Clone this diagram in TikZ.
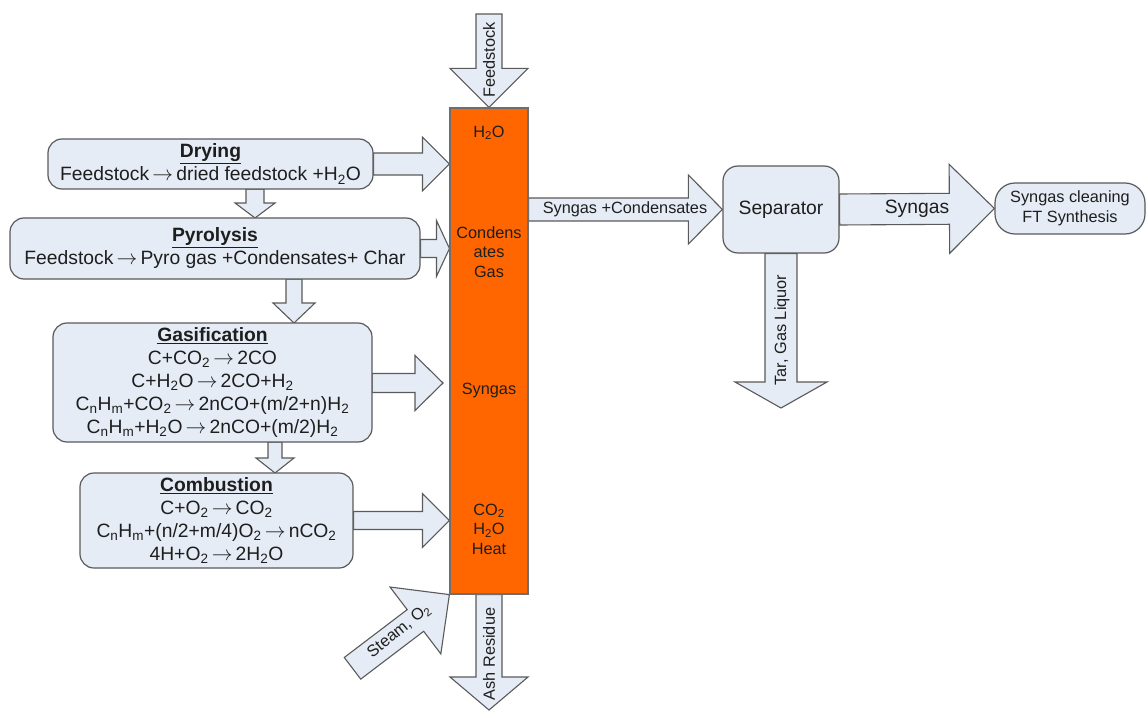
\documentclass[tikz,border=0pt]{standalone}
\usepackage{fontspec}
\setmainfont{Liberation Sans}
\usetikzlibrary{calc}
\definecolor{boxfill}{HTML}{E6ECF6}
\definecolor{boxline}{HTML}{5A5A5A}
\definecolor{colfill}{HTML}{FF6600}
\definecolor{colline}{HTML}{6E6E6E}
\definecolor{txt}{HTML}{1E1E1E}
\pgfdeclarelayer{bg}\pgfdeclarelayer{arr}\pgfsetlayers{bg,arr,main}
\newcommand\bigf{\fontsize{19.3}{23}\selectfont}
\newcommand\smf{\fontsize{16.3}{19.5}\selectfont}
\newcommand\sbs[1]{\textsubscript{#1}}
\newcommand\ra{\,$\rightarrow$\,}
% block arrow: start, end, shaft half width, head half width, head length
\newcommand\barrow[5]{%
  \path let \p1=(#1), \p2=(#2), \n1={atan2(\y2-\y1,\x2-\x1)}, \n2={veclen(\x2-\x1,\y2-\y1)} in
    \pgfextra{\xdef\bang{\n1}\xdef\blen{\n2}\xdef\bx{\x1}\xdef\by{\y1}};
  \draw[barr, shift={(\bx,\by)}, rotate=\bang]
    (0,#3) -- (\blen-#5,#3) -- (\blen-#5,#4) -- (\blen,0) -- (\blen-#5,-#4) -- (\blen-#5,-#3) -- (0,-#3) -- cycle;
}
\begin{document}
\begin{tikzpicture}[x=1pt,y=-1pt,
  box/.style={draw=boxline, fill=boxfill, line width=1.2pt, rounded corners=14pt, align=center, inner sep=0pt, text=txt, font=\bigf},
  barr/.style={draw=boxline, fill=boxfill, line width=1.1pt, line join=miter},
  col/.style={draw=colline, fill=colfill, line width=1.1pt, inner sep=0pt},
  lbl/.style={text=txt, font=\smf, inner sep=0pt, align=center},
  blbl/.style={text=txt, font=\bigf, inner sep=0pt, align=center}]
\begin{pgfonlayer}{bg}
  \fill[white] (0,0) rectangle (1147,711);
\end{pgfonlayer}
\useasboundingbox (0,0) rectangle (1147,711);

% process boxes
\node[box, minimum width=325, minimum height=50] (drying) at (210.5,164)
  {\underline{\textbf{Drying}}\\Feedstock\ra dried feedstock +H\sbs{2}O};
\node[box, minimum width=410, minimum height=61] (pyro) at (215,248.5)
  {\underline{\textbf{Pyrolysis}}\\Feedstock\ra Pyro gas +Condensates+ Char};
\node[box, minimum width=319, minimum height=119] (gasif) at (212.5,382.5)
  {\underline{\textbf{Gasification}}\\C+CO\sbs{2}\ra 2CO\\C+H\sbs{2}O\ra 2CO+H\sbs{2}\\
   C\sbs{n}H\sbs{m}+CO\sbs{2}\ra 2nCO+(m/2+n)H\sbs{2}\\C\sbs{n}H\sbs{m}+H\sbs{2}O\ra 2nCO+(m/2)H\sbs{2}};
\node[box, minimum width=273, minimum height=95] (comb) at (216.5,520.5)
  {\underline{\textbf{Combustion}}\\C+O\sbs{2}\ra CO\sbs{2}\\C\sbs{n}H\sbs{m}+(n/2+m/4)O\sbs{2}\ra nCO\sbs{2}\\4H+O\sbs{2}\ra 2H\sbs{2}O};

% gasifier column
\node[col, minimum width=78, minimum height=486] (column) at (489,351) {};
\node[lbl] (cH2O) at (489,133) {H\sbs{2}O};
\node[lbl] (cCond) at (489,252) {Condens\\ates\\Gas};
\node[lbl] (cSyn) at (489,390) {Syngas};
\node[lbl] (cCO2) at (489,529) {CO\sbs{2}\\H\sbs{2}O\\Heat};

% right side
\node[box, minimum width=116, minimum height=87, rounded corners=15pt] (sep) at (781,209.5) {Separator};
\node[box, minimum width=150, minimum height=51, rounded corners=20pt, font=\smf] (clean) at (1070,208.5)
  {Syngas cleaning\\FT Synthesis};

% arrow end points
\coordinate (feedS) at (489,14);
\coordinate (dryS) at (255,189);  \coordinate (dryE) at (255,218);
\coordinate (pyS) at (294,279);   \coordinate (pyE) at (294,323);
\coordinate (gaS) at (275,442);   \coordinate (gaE) at (275,473);
\coordinate (gcE) at (443,383);   \coordinate (gcS) at (372,383);
\coordinate (stS) at (352.5,668.3);
\coordinate (ashE) at (489,710);
\coordinate (tarE) at (781,408);

\begin{pgfonlayer}{arr}
  \barrow{feedS}{column.north}{13}{39}{39}
  \barrow{drying.east}{drying.east -| column.west}{11}{27}{27}
  \barrow{pyro.east}{pyro.east -| column.west}{9}{28}{13}
  \barrow{gcS}{gcE}{9.5}{27.5}{28}
  \barrow{comb.east}{comb.east -| column.west}{9}{27}{27}
  \barrow{dryS}{dryE}{9}{20}{15}
  \barrow{pyS}{pyE}{8}{21}{20}
  \barrow{gaS}{gaE}{7}{19}{15}
  \barrow{stS}{column.south west}{13.6}{42}{42.7}
  \barrow{column.south}{ashE}{13}{39}{33}
  \barrow{column.east |- sep.west}{sep.west}{11.5}{34.5}{34}
  \barrow{sep.east}{clean.west}{15.5}{44.5}{45}
  \barrow{sep.south}{tarE}{16}{46}{26}
\end{pgfonlayer}

% arrow labels
\node[lbl, rotate=90] (lfeed) at (489,60) {Feedstock};
\node[lbl, rotate=90] (lash) at (489,654) {Ash Residue};
\node[lbl, rotate=90] (ltar) at (782,330) {Tar, Gas Liquor};
\node[lbl, rotate=38.8] (lsteam) at (399,631) {Steam, O\sbs{2}};
\node[lbl] (lsc) at (625,209) {Syngas +Condensates};
\node[blbl] (lsyn) at (917,209) {Syngas};
\end{tikzpicture}
\end{document}
